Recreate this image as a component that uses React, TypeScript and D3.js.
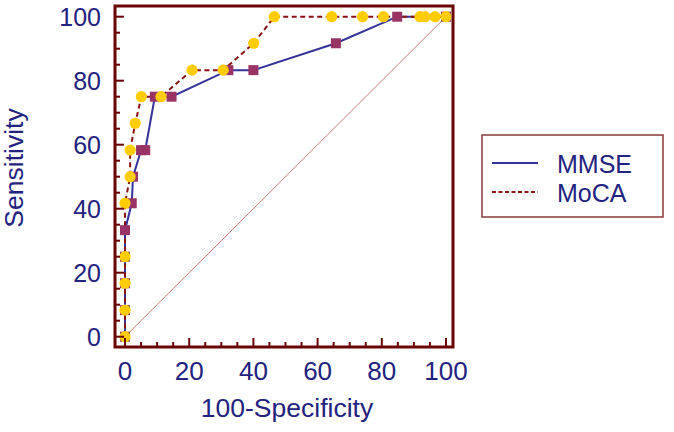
import React from "react";
import * as d3 from "d3";

const mmseX = [0, 0, 0, 0, 0, 2.1, 2.5, 5.0, 6.3, 9.3, 14.5, 32.2, 40.0, 65.7, 84.8, 100];
const mmseY = [0, 8.3, 16.7, 25, 33.3, 41.7, 50, 58.3, 58.3, 75, 75, 83.3, 83.3, 91.7, 100, 100];
const mocaX = [0, 0, 0, 0, 0, 1.6, 1.6, 3.2, 5.1, 11.2, 20.9, 30.6, 40.1, 46.5, 64.4, 74.0, 80.5, 91.9, 93.5, 96.6, 100];
const mocaY = [0, 8.3, 16.7, 25, 41.7, 50, 58.3, 66.7, 75, 75, 83.3, 83.3, 91.7, 100, 100, 100, 100, 100, 100, 100, 100];
const tickValues = d3.range(0, 101, 5);
const tickLabels = ["0", "20", "40", "60", "80", "100"];
const seriesNames = ["MMSE", "MoCA"];

const NAVY = "#22227f";
const FRAME = "#6b0505";

export default function App() {
  const x = d3.scaleLinear().domain([0, 100]).range([125, 446]);
  const y = d3.scaleLinear().domain([0, 100]).range([336.7, 16.7]);
  const mmse = mmseX.map((v, i) => [v, mmseY[i]] as [number, number]);
  const moca = mocaX.map((v, i) => [v, mocaY[i]] as [number, number]);
  const line = d3.line<[number, number]>().x((d) => x(d[0])).y((d) => y(d[1]));
  const font = "'Liberation Sans', Arial, sans-serif";

  return (
    <svg width={674} height={432} style={{ position: "absolute", left: 0, top: 0 }}>
      <rect x={0} y={0} width={674} height={432} fill="#fff" />
      {/* diagonal */}
      <line x1={x(0)} y1={y(0)} x2={x(100)} y2={y(100)} stroke="#c97a7a" strokeWidth={1} />
      {/* lines */}
      <path d={line(mmse) || ""} fill="none" stroke="#33339a" strokeWidth={2} />
      <path d={line(moca) || ""} fill="none" stroke="#8b1010" strokeWidth={2} strokeDasharray="5,3.5" />
      {mmse.map((d, i) => (
        <rect key={"s" + i} x={x(d[0]) - 5} y={y(d[1]) - 5} width={10} height={10} fill="#993366" />
      ))}
      {moca.map((d, i) => (
        <circle key={"c" + i} cx={x(d[0])} cy={y(d[1])} r={5.6} fill="#ffcc00" />
      ))}
      {/* frame */}
      <rect x={115} y={6} width={338} height={341} fill="none" stroke={FRAME} strokeWidth={3} />
      {/* ticks */}
      {tickValues.map((v) => {
        const major = v % 20 === 0;
        return (
          <g key={"t" + v}>
            <line x1={115} x2={115 + (major ? 9 : 5)} y1={y(v)} y2={y(v)} stroke={FRAME} strokeWidth={2} />
            <line x1={x(v)} x2={x(v)} y1={347} y2={347 - (major ? 9 : 5)} stroke={FRAME} strokeWidth={2} />
          </g>
        );
      })}
      {tickLabels.map((t) => (
        <g key={"l" + t}>
          <text x={101} y={y(+t) + 9} textAnchor="end" fontSize={25} fontFamily={font} fill={NAVY}>
            {t}
          </text>
          <text x={x(+t)} y={380} textAnchor="middle" fontSize={26} fontFamily={font} fill={NAVY}>
            {t}
          </text>
        </g>
      ))}
      <text x={287} y={417} textAnchor="middle" fontSize={26.5} fontFamily={font} fill={NAVY}>
        100-Specificity
      </text>
      <text
        transform={`translate(23,168) rotate(-90)`}
        textAnchor="middle"
        fontSize={26.5}
        fontFamily={font}
        fill={NAVY}
      >
        Sensitivity
      </text>
      {/* legend */}
      <rect x={482} y={135} width={181} height={82} fill="none" stroke="#8b3a3a" strokeWidth={1.5} />
      <line x1={492} x2={538} y1={163} y2={163} stroke="#33339a" strokeWidth={2} />
      <line x1={492} x2={538} y1={192} y2={192} stroke="#8b1010" strokeWidth={2} strokeDasharray="4,2.5" />
      <text x={557} y={173} fontSize={25} fontFamily={font} fill={NAVY}>
        {seriesNames[0]}
      </text>
      <text x={557} y={202} fontSize={25} fontFamily={font} fill={NAVY}>
        {seriesNames[1]}
      </text>
    </svg>
  );
}
